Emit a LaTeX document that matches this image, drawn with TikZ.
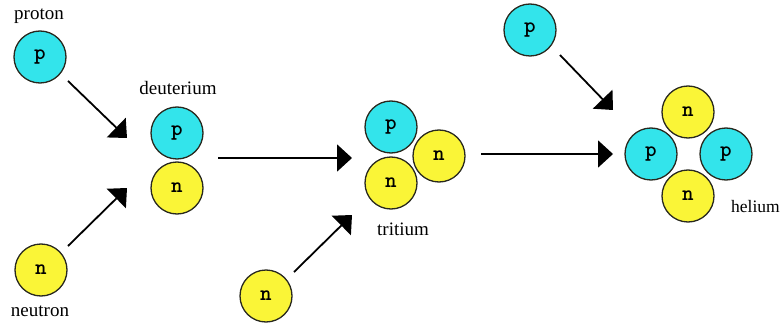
\documentclass[tikz,border=0pt]{standalone}
\usepackage{fontspec}
\setmainfont{Liberation Serif}
\usetikzlibrary{arrows.meta}
\definecolor{protc}{RGB}{51,228,235}
\definecolor{neutc}{RGB}{250,245,55}
\definecolor{rimc}{RGB}{40,40,30}
\tikzset{
  part/.style={circle, draw=rimc, line width=1.3pt, minimum size=52pt, inner sep=0pt, font=\ttfamily\bfseries\fontsize{22}{22}\selectfont},
  prot/.style={part, fill=protc},
  neut/.style={part, fill=neutc},
  lbl/.style={font=\fontsize{19}{19}\selectfont, inner sep=0pt},
  arr/.style={line width=1.8pt, -{Triangle[length=15pt,width=27pt]}}
}
\begin{document}
\begin{tikzpicture}[x=1pt,y=-1pt]
\useasboundingbox (0,0) rectangle (783,323);
% left inputs
\node[prot] (p1) at (40,57) {p};
\node[lbl] (lp1) at (39,16) {proton};
\node[neut] (n1) at (41,270) {n};
\node[lbl] (ln1) at (40,311) {neutron};
% deuterium
\node[prot] (dp) at (177,133) {p};
\node[neut] (dn) at (177,188) {n};
\node[lbl] (ld) at (178,88) {deuterium};
% tritium
\node[prot] (tp) at (391,127) {p};
\node[neut] (tn1) at (391,183) {n};
\node[neut] (tn2) at (439,156) {n};
\node[lbl] (lt) at (403,229) {tritium};
\node[neut] (n2) at (266,296) {n};
% helium
\node[prot] (p2) at (530,30) {p};
\node[neut] (hn1) at (688,112) {n};
\node[prot] (hp1) at (651,154) {p};
\node[prot] (hp2) at (726,154) {p};
\node[neut] (hn2) at (688,196) {n};
\node[lbl, anchor=west, font=\fontsize{17.5}{17.5}\selectfont] (lh) at (731,207) {helium};
% arrow coordinates
\coordinate (a1s) at (68,81);
\coordinate (a1e) at (127,138);
\coordinate (a2s) at (68,246);
\coordinate (a2e) at (127,188);
\coordinate (a3s) at (218,158);
\coordinate (a3e) at (352,158);
\coordinate (a4s) at (294,272);
\coordinate (a4e) at (352,215);
\coordinate (a5s) at (481,154);
\coordinate (a5e) at (613,154);
\coordinate (a6s) at (560,55);
\coordinate (a6e) at (613,110);
\draw[arr] (a1s) -- (a1e);
\draw[arr] (a2s) -- (a2e);
\draw[arr] (a3s) -- (a3e);
\draw[arr] (a4s) -- (a4e);
\draw[arr] (a5s) -- (a5e);
\draw[arr] (a6s) -- (a6e);
\end{tikzpicture}
\end{document}
